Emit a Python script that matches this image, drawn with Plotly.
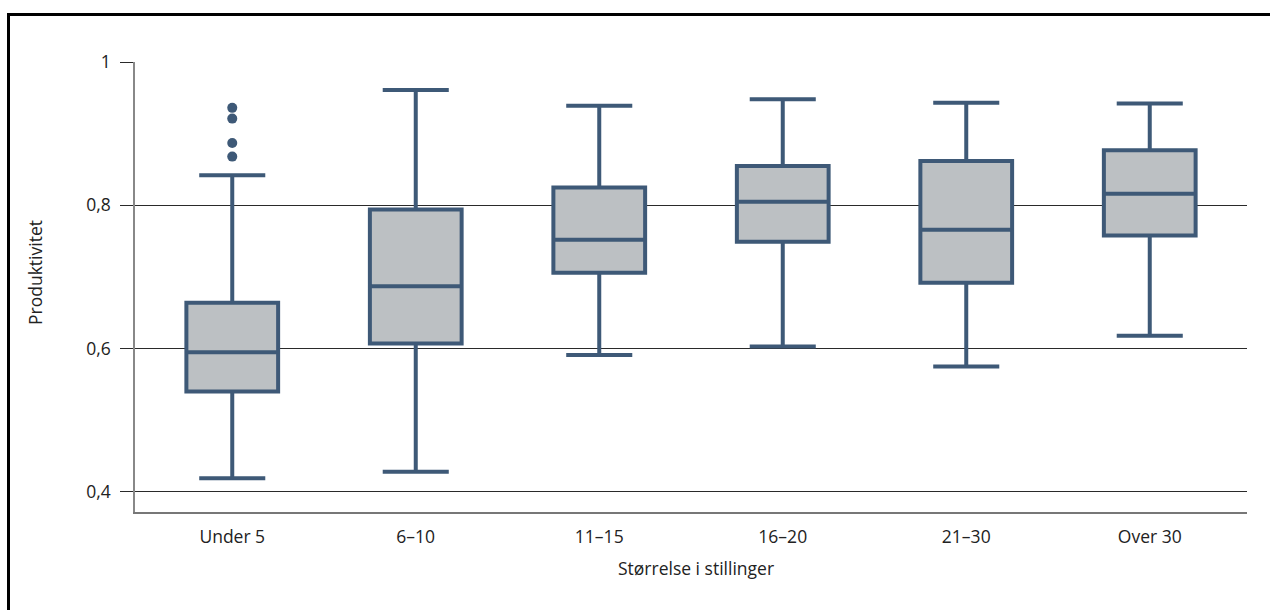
import plotly.graph_objects as go

categories = ["Under 5", "6–10", "11–15", "16–20", "21–30", "Over 30"]
lower_whisker = [0.419, 0.428, 0.591, 0.603, 0.575, 0.618]
q1_values = [0.540, 0.607, 0.706, 0.749, 0.692, 0.758]
median_values = [0.595, 0.687, 0.752, 0.805, 0.766, 0.816]
q3_values = [0.664, 0.794, 0.825, 0.855, 0.862, 0.877]
upper_whisker = [0.842, 0.961, 0.939, 0.948, 0.943, 0.942]
outlier_category = ["Under 5", "Under 5", "Under 5", "Under 5"]
outlier_values = [0.936, 0.921, 0.887, 0.868]
y_tick_values = [0.4, 0.6, 0.8, 1.0]
y_tick_labels = ["0,4", "0,6", "0,8", "1"]

LINE = "#3e5977"
FILL = "#bcc0c3"
FONT = "Open Sans"
FS = 17.5

fig = go.Figure()
fig.add_trace(go.Box(
    x=categories,
    q1=q1_values, median=median_values, q3=q3_values,
    lowerfence=lower_whisker, upperfence=upper_whisker,
    width=0.5, whiskerwidth=0.72,
    fillcolor=FILL, line=dict(color=LINE, width=4),
    boxpoints=False, showlegend=False,
))
fig.add_trace(go.Scatter(
    x=outlier_category, y=outlier_values, mode="markers",
    marker=dict(color=LINE, size=10), showlegend=False,
))

def px_x(p):
    return (p - 135) / 1112

def px_y(p):
    return (512 - p) / 450

fig.update_layout(
    width=1270, height=610,
    margin=dict(l=135, r=23, t=62, b=98),
    paper_bgcolor="white", plot_bgcolor="white",
    font=dict(family=FONT, size=FS, color="#222222"),
    xaxis=dict(
        type="category", range=[-0.53, 5.53],
        showline=True, linecolor="#777777", linewidth=1.5,
        showgrid=False, ticks="", zeroline=False,
        ticklabelstandoff=8,
        tickfont=dict(family=FONT, size=FS, color="#222222"),
    ),
    yaxis=dict(
        range=[0.372, 1.0],
        tickvals=y_tick_values, ticktext=y_tick_labels,
        showgrid=True, gridcolor="#2a2a2a", gridwidth=1.3,
        ticks="outside", ticklen=13, tickcolor="#2a2a2a", tickwidth=1.3,
        showline=True, linecolor="#888888", linewidth=1.5,
        zeroline=False,
        ticklabelstandoff=6,
        tickfont=dict(family=FONT, size=FS, color="#222222"),
    ),
    annotations=[
        dict(text="Produktivitet", textangle=-90, xref="paper", yref="paper",
             x=px_x(35), y=px_y(273), showarrow=False,
             xanchor="center", yanchor="middle",
             font=dict(family=FONT, size=FS, color="#222222")),
        dict(text="Størrelse i stillinger", xref="paper", yref="paper",
             x=px_x(696), y=px_y(568), showarrow=False,
             xanchor="center", yanchor="middle",
             font=dict(family=FONT, size=FS, color="#222222")),
    ],
    shapes=[
        dict(type="line", xref="paper", yref="paper",
             x0=px_x(8.5), x1=px_x(8.5), y0=px_y(14.5), y1=px_y(612),
             line=dict(color="black", width=3), layer="above"),
        dict(type="line", xref="paper", yref="paper",
             x0=px_x(7), x1=px_x(1270), y0=px_y(14.5), y1=px_y(14.5),
             line=dict(color="black", width=3), layer="above"),
    ],
)

fig.write_html("out.html")
